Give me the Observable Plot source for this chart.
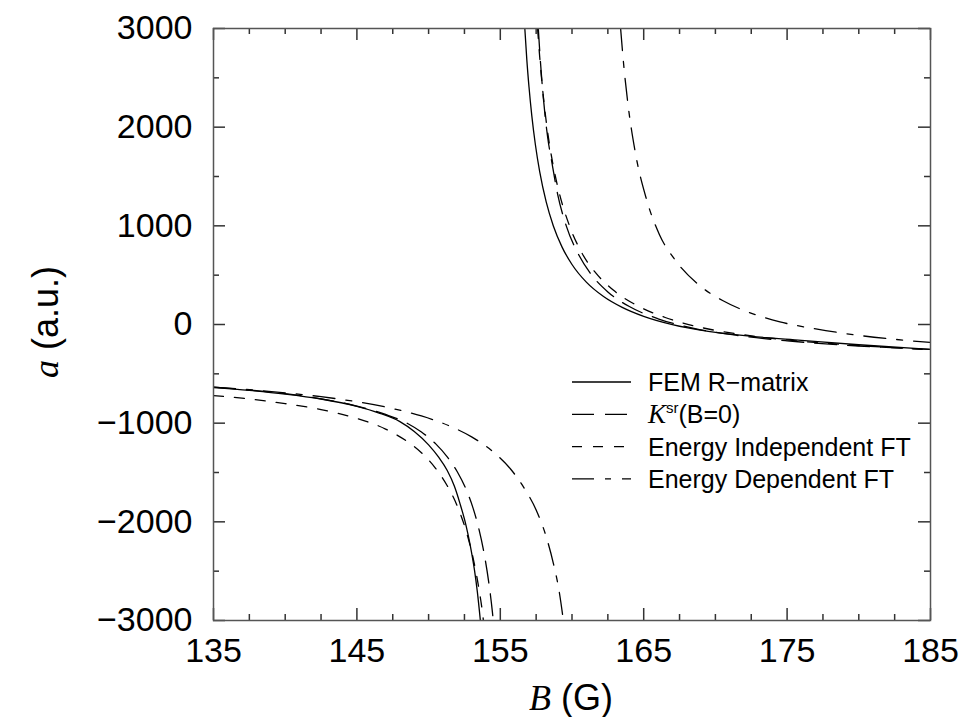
<!DOCTYPE html>
<html><head><meta charset="utf-8">
<script src="https://cdn.jsdelivr.net/npm/d3@7"></script>
<script src="https://cdn.jsdelivr.net/npm/@observablehq/plot@0.6"></script>
<style>body{margin:0;background:#fff}</style>
</head><body><div id="chart"></div>
<script>
// B (G), a (a.u.)
const femLow = [[135,-640],[137.5,-668],[140,-705],[142.5,-755],[145,-830],[146.5,-895],[148,-985],[149,-1085],[150,-1220],[150.7,-1345],[151.3,-1480],[151.8,-1640],[152.2,-1820],[152.6,-2030],[152.9,-2235],[153.2,-2490],[153.4,-2710],[153.61,-3000]];
const femHigh = [[156.71,3000],[156.85,2682],[157.0,2409],[157.2,2112],[157.45,1819],[157.75,1546],[158.2,1242],[158.7,999],[159.3,787],[160,608],[161,429],[162.2,283],[163.5,173],[165,82],[167,-2],[169.5,-70],[172.5,-120],[176,-160],[180,-205],[185,-253]];
const kLow = [[135,-635],[137.5,-664],[140,-701],[142.5,-753],[145,-827],[147,-912],[148.5,-1000],[149.5,-1090],[150.5,-1210],[151.3,-1342],[152,-1492],[152.6,-1666],[153.1,-1861],[153.5,-2068],[153.9,-2343],[154.2,-2618],[154.45,-2915],[154.51,-3000]];
const kHigh = [[157.65,3000],[157.8,2661],[158.0,2299],[158.3,1900],[158.6,1640],[159.0,1320],[159.6,1000],[160.4,725],[161.3,515],[162.5,330],[164,182],[166,58],[168.5,-39],[171.5,-110],[175,-165],[180,-218],[185,-252]];
const eiLow = [[135,-720],[137.5,-755],[140,-802],[142.5,-862],[145,-952],[147,-1060],[148.5,-1185],[149.5,-1300],[150.5,-1460],[151.3,-1634],[152,-1840],[152.6,-2085],[153.1,-2365],[153.5,-2671],[153.8,-2973],[153.82,-3000]];
const eiHigh = [[157.6,3000],[157.75,2708],[158.0,2313],[158.3,1951],[158.65,1640],[159.1,1340],[159.8,1010],[160.7,722],[161.7,515],[162.9,346],[164.5,195],[166.5,71],[169,-30],[172,-105],[176,-170],[180,-213],[185,-256]];
const edLow = [[135,-635],[137.5,-661],[140,-692],[142.5,-732],[145,-783],[147.5,-852],[149.5,-927],[151.5,-1031],[153,-1139],[154.5,-1290],[155.7,-1462],[156.7,-1666],[157.5,-1880],[158.2,-2150],[158.7,-2420],[159.1,-2700],[159.4,-3000]];
const edHigh = [[163.39,3000],[163.6,2640],[163.9,2236],[164.4,1756],[165.2,1266],[166.1,910],[167.2,652],[168.9,395],[170.5,243],[172.2,131],[174.5,27],[177,-45],[180,-110],[182.5,-150],[185,-182]];

const seriesNames = ["FEM R\u2212matrix","K(B=0)","Energy Independent FT","Energy Dependent FT"];
const xMajor = [135,145,155,165,175,185];
const xMinor = [137.5,140,142.5,147.5,150,152.5,157.5,160,162.5,167.5,170,172.5,177.5,180,182.5];
const yMajor = [-3000,-2000,-1000,0,1000,2000,3000];
const yMinor = [-2500,-1500,-500,500,1500,2500];

const toRows = (arr, series, branch) => arr.map(([B,a]) => ({B, a, series, branch}));
const rows = [
  ...toRows(femLow,"fem","low"), ...toRows(femHigh,"fem","high"),
  ...toRows(kLow,"k","low"), ...toRows(kHigh,"k","high"),
  ...toRows(eiLow,"ei","low"), ...toRows(eiHigh,"ei","high"),
  ...toRows(edLow,"ed","low"), ...toRows(edHigh,"ed","high")
];
const dash = {fem: null, k: "22,11", ei: "10,11", ed: "22,11,6,11"};

const W = 964, H = 717, mL = 213, mR = 34, mT = 28, mB = 97;
const plotH = H - mT - mB, plotW = W - mL - mR;
const fmt = d => d < 0 ? "\u2212" + Math.abs(d) : String(d);
const tickStroke = "#333";

const lineMark = s => Plot.line(rows.filter(d => d.series === s), {
  x: "B", y: "a", z: "branch", stroke: "#000", strokeWidth: 1.3,
  strokeDasharray: dash[s], curve: "monotone-x", clip: true
});

const chart = Plot.plot({
  width: W, height: H, marginLeft: mL, marginRight: mR, marginTop: mT, marginBottom: mB,
  style: {fontFamily: "'Liberation Sans', Arial, Helvetica, sans-serif", background: "#fff", color: "#000"},
  x: {domain: [135, 185]},
  y: {domain: [-3000, 3000]},
  marks: [
    lineMark("fem"), lineMark("k"), lineMark("ei"), lineMark("ed"),
    Plot.tickX(xMajor, {x: d => d, insetTop: plotH - 12, stroke: tickStroke, strokeWidth: 1.5}),
    Plot.tickX(xMajor, {x: d => d, insetBottom: plotH - 12, stroke: tickStroke, strokeWidth: 1.5}),
    Plot.tickX(xMinor, {x: d => d, insetTop: plotH - 6, stroke: tickStroke, strokeWidth: 1.5}),
    Plot.tickX(xMinor, {x: d => d, insetBottom: plotH - 6, stroke: tickStroke, strokeWidth: 1.5}),
    Plot.tickY(yMajor, {y: d => d, insetRight: plotW - 12, stroke: tickStroke, strokeWidth: 1.5}),
    Plot.tickY(yMajor, {y: d => d, insetLeft: plotW - 12, stroke: tickStroke, strokeWidth: 1.5}),
    Plot.tickY(yMinor, {y: d => d, insetRight: plotW - 6, stroke: tickStroke, strokeWidth: 1.5}),
    Plot.tickY(yMinor, {y: d => d, insetLeft: plotW - 6, stroke: tickStroke, strokeWidth: 1.5}),
    Plot.axisX(xMajor, {tickSize: 0, tickPadding: 17, fontSize: 34, label: null, tickFormat: fmt}),
    Plot.axisY(yMajor, {tickSize: 0, tickPadding: 21, fontSize: 34, label: null, tickFormat: fmt}),
    Plot.frame({stroke: "#555", strokeWidth: 1.5})
  ]
});
document.getElementById("chart").append(chart);

const svg = d3.select(chart);
const serif = "'Liberation Serif', 'Times New Roman', serif";
const sans = "'Liberation Sans', Arial, sans-serif";
// axis titles
const yt = svg.append("text").attr("transform", "translate(58,322) rotate(-90)")
  .attr("text-anchor", "middle").attr("font-size", 36).attr("font-family", sans).attr("fill", "#000");
yt.append("tspan").attr("font-family", serif).attr("font-style", "italic").text("a");
yt.append("tspan").text(" (a.u.)");
const xt = svg.append("text").attr("x", 571).attr("y", 710)
  .attr("text-anchor", "middle").attr("font-size", 36).attr("font-family", sans).attr("fill", "#000");
xt.append("tspan").attr("font-family", serif).attr("font-style", "italic").text("B");
xt.append("tspan").text(" (G)");

// legend
const keys = ["fem", "k", "ei", "ed"];
const lg = svg.append("g").attr("font-family", sans).attr("font-size", 25).attr("fill", "#000").attr("text-anchor", "start");
keys.forEach((k, i) => {
  const y = 382 + i * 32.3;
  lg.append("line").attr("x1", 572).attr("x2", 631).attr("y1", y).attr("y2", y)
    .attr("stroke", "#000").attr("stroke-width", 1.3).attr("stroke-dasharray", dash[k] || null);
  const t = lg.append("text").attr("x", 648).attr("y", y).attr("dy", "0.36em");
  if (k === "k") {
    t.append("tspan").attr("font-family", serif).attr("font-style", "italic").attr("font-size", 27).text("K");
    t.append("tspan").attr("font-size", 15).attr("dy", -10).text("sr");
    t.append("tspan").attr("dy", 10).text("(B=0)");
  } else {
    t.text(seriesNames[i]);
  }
});
</script>
</body></html>
